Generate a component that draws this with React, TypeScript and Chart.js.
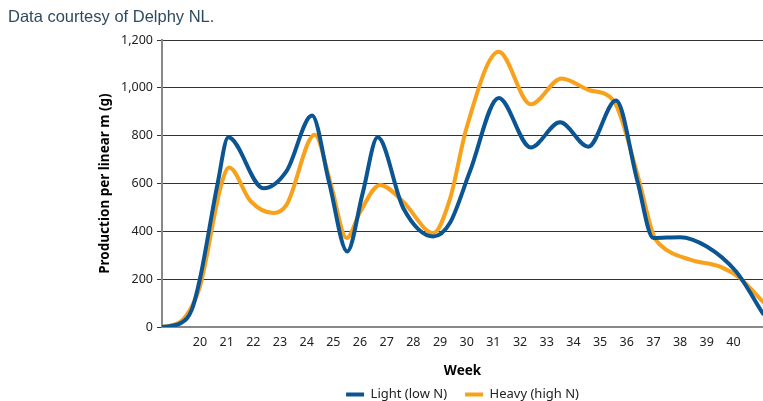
import React, { useEffect, useRef } from "react";
import { Chart, registerables } from "chart.js";

Chart.register(...registerables);

const lightWeeks = [18.575, 19.3, 19.69, 20.0, 20.66, 21.06, 22.38, 23.25, 24.2, 24.85, 25.52, 26.1, 26.66, 27.62, 28.75, 29.37, 30.12, 31.2, 32.4, 33.5, 34.56, 35.6, 36.4, 37.0, 38.0, 39.0, 40.1, 41.11];
const lightValues = [0, 18, 72, 203, 600, 793, 580, 653, 884, 600, 316, 560, 793, 498, 379, 435, 650, 958, 751, 856, 754, 947, 611, 372, 376, 337, 232, 56];

const heavyWeeks = [18.575, 19.3, 19.69, 20.0, 20.81, 21.09, 21.9, 22.75, 23.25, 24.3, 24.9, 25.5, 26.0, 26.75, 27.6, 28.75, 29.37, 30.0, 31.2, 32.4, 33.56, 34.6, 35.5, 36.4, 37.0, 37.25, 38.4, 39.5, 40.25, 41.11];
const heavyValues = [0, 25, 85, 170, 600, 667, 526, 477, 512, 804, 600, 372, 480, 594, 526, 393, 535, 835, 1151, 931, 1039, 990, 947, 639, 385, 344, 281, 253, 204, 105];

const weekTicks = [20, 21, 22, 23, 24, 25, 26, 27, 28, 29, 30, 31, 32, 33, 34, 35, 36, 37, 38, 39, 40];
const yTicks = [0, 200, 400, 600, 800, 1000, 1200];

const seriesNames = ["Light (low N)", "Heavy (high N)"];
const FONT = "'Noto Sans', sans-serif";

export default function App() {
  const ref = useRef<HTMLCanvasElement | null>(null);

  useEffect(() => {
    const canvas = ref.current;
    if (!canvas) return;
    const toPts = (xs: number[], ys: number[]) => xs.map((x, i) => ({ x, y: ys[i] }));
    const chart = new Chart(canvas, {
      type: "line",
      data: {
        datasets: [
          {
            label: seriesNames[0],
            data: toPts(lightWeeks, lightValues),
            borderColor: "#0b5592",
            backgroundColor: "#0b5592",
            borderWidth: 4,
            pointRadius: 0,
            cubicInterpolationMode: "monotone",
            borderCapStyle: "round",
            order: 1,
          },
          {
            label: seriesNames[1],
            data: toPts(heavyWeeks, heavyValues),
            borderColor: "#f8a11b",
            backgroundColor: "#f8a11b",
            borderWidth: 4,
            pointRadius: 0,
            cubicInterpolationMode: "monotone",
            borderCapStyle: "round",
            order: 2,
          },
        ],
      },
      options: {
        animation: false,
        responsive: false,
        devicePixelRatio: 1,
        layout: { padding: { left: 8, top: 0, right: 0, bottom: -10 } },
        plugins: {
          tooltip: { enabled: false },
          title: {
            display: true,
            text: "Data courtesy of Delphy NL.",
            align: "start",
            color: "#2e4a5f",
            font: { family: "'Liberation Sans', Arial, sans-serif", size: 16.5, weight: "normal" },
            padding: { top: 7.5, bottom: 12.7 },
          },
          legend: {
            position: "bottom",
            fullSize: false,
            labels: {
              usePointStyle: true,
              pointStyle: "line",
              pointStyleWidth: 18,
              padding: 18,
              color: "#222",
              font: { family: FONT, size: 13 },
            },
          },
        },
        scales: {
          x: {
            type: "linear",
            min: lightWeeks[0],
            max: lightWeeks[lightWeeks.length - 1],
            afterBuildTicks: (s: any) => {
              s.ticks = weekTicks.map((v) => ({ value: v }));
            },
            grid: { display: false, drawTicks: false },
            border: { display: true, color: "#888", width: 2 },
            ticks: {
              autoSkip: false,
              maxRotation: 0,
              padding: 8,
              color: "#222",
              font: { family: FONT, size: 12.5 },
              callback: (v: any) => String(v),
            },
            title: {
              display: true,
              text: "Week",
              color: "#000",
              font: { family: FONT, size: 13.5, weight: "bold" },
              padding: { top: 4.5, bottom: -8.8 },
            },
          },
          y: {
            min: 0,
            max: 1200,
            afterBuildTicks: (s: any) => {
              s.ticks = yTicks.map((v) => ({ value: v }));
            },
            afterFit: (s: any) => {
              s.width = 154;
            },
            grid: { color: "#333", tickLength: 5, drawTicks: true },
            border: { display: true, color: "#888", width: 2 },
            ticks: {
              padding: 4,
              color: "#222",
              font: { family: FONT, size: 12.5 },
              callback: (v: any) => Number(v).toLocaleString("en-US"),
            },
            title: {
              display: true,
              text: "Production per linear m (g)",
              color: "#000",
              font: { family: FONT, size: 13.5, weight: "bold" },
              padding: { top: 88.9, bottom: 0 },
            },
          },
        },
      },
    } as any);
    return () => chart.destroy();
  }, []);

  return (
    <div style={{ position: "fixed", left: 0, top: 0, width: 763, height: 401, background: "#fff" }}>
      <canvas ref={ref} width={763} height={401} style={{ display: "block" }} />
    </div>
  );
}
